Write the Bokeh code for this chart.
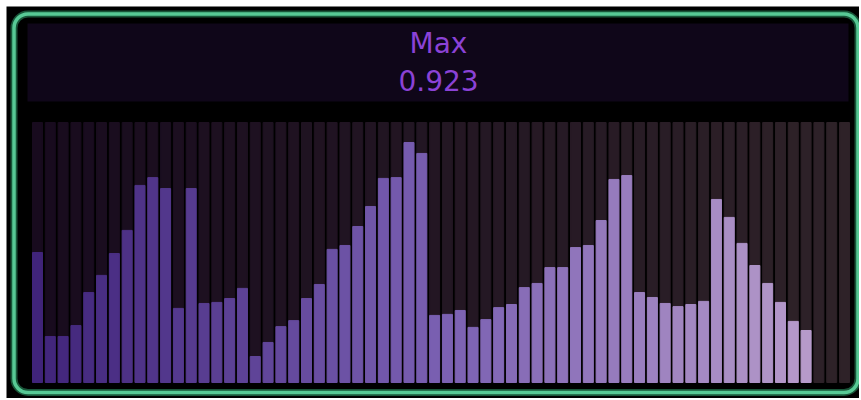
from bokeh.plotting import figure
from bokeh.models import BoxAnnotation, Label, Range1d, ColumnDataSource
from bokeh.embed import file_html
from bokeh.resources import INLINE

# ---- data ----
values = [0.500, 0.177, 0.177, 0.219, 0.346, 0.412, 0.496, 0.585, 0.758, 0.788,
          0.746, 0.285, 0.746, 0.304, 0.308, 0.323, 0.362, 0.100, 0.154, 0.215,
          0.238, 0.323, 0.377, 0.512, 0.527, 0.600, 0.677, 0.785, 0.788, 0.923,
          0.881, 0.258, 0.262, 0.277, 0.212, 0.242, 0.288, 0.300, 0.365, 0.381,
          0.442, 0.442, 0.519, 0.527, 0.623, 0.781, 0.796, 0.346, 0.327, 0.304,
          0.292, 0.300, 0.312, 0.704, 0.635, 0.535, 0.450, 0.381, 0.308, 0.235,
          0.200]
n_slots = 64
title_text = "Max"

# ---- layout (pixels, figure coordinates; y measured from top) ----
W, H = 853, 392
X0_PX, PITCH_PX = 31.0, 12.81      # centre of first slot, slot pitch
BASE_PX, SPAN_PX = 376.0, 260.0    # bar baseline (from top), px per unit value


def px_x(fx):
    return (fx - X0_PX) / PITCH_PX


def px_y(fy_top):
    return (BASE_PX - fy_top) / SPAN_PX


def lerp_hex(c1, c2, t):
    a = [int(c1[i:i + 2], 16) for i in (1, 3, 5)]
    b = [int(c2[i:i + 2], 16) for i in (1, 3, 5)]
    return "#%02x%02x%02x" % tuple(round(a[k] + (b[k] - a[k]) * t) for k in range(3))


p = figure(width=W, height=H, output_backend="svg", toolbar_location=None,
           x_range=Range1d(px_x(0), px_x(W)), y_range=Range1d(px_y(H), px_y(0)),
           min_border=0, background_fill_color="#000000",
           border_fill_color="#000000", outline_line_color=None,
           margin=(6, 0, 0, 6))
p.xaxis.visible = False
p.yaxis.visible = False
p.grid.visible = False

# background slots
slots = list(range(n_slots))
bg_colors = [lerp_hex("#180b1e", "#2e2228", i / (n_slots - 1)) for i in slots]
p.vbar(x=slots, top=[1.0] * n_slots, bottom=0, width=0.78, color=bg_colors)

# value bars
idx = list(range(len(values)))
bar_colors = []
for i in idx:
    t = i / (n_slots - 1)
    if t < 0.5:
        bar_colors.append(lerp_hex("#40247a", "#7a60b2", t / 0.5))
    else:
        bar_colors.append(lerp_hex("#7a60b2", "#bca0cc", (t - 0.5) / 0.5))
src = ColumnDataSource(dict(x=idx, top=values, color=bar_colors))
p.vbar(x="x", top="top", bottom=0, width=0.78, color="color", source=src)

# header panel
p.add_layout(BoxAnnotation(left=px_x(21), right=px_x(842), top=px_y(17), bottom=px_y(95),
                           fill_color="#0f0619", fill_alpha=1, line_color=None))

font = "DejaVu Sans"
p.add_layout(Label(x=px_x(432), y=px_y(37), text=title_text, text_align="center",
                   text_baseline="alphabetic", text_font=font, text_font_size="28px",
                   text_color="#8b42d6"))
p.add_layout(Label(x=px_x(432), y=px_y(74), text="%.3f" % max(values), text_align="center",
                   text_baseline="alphabetic", text_font=font, text_font_size="28px",
                   text_color="#8b42d6"))

# rounded green border with glow
bl, br, bt, bb = px_x(7.5), px_x(851.5), px_y(7.5), px_y(386)
p.add_layout(BoxAnnotation(left=bl, right=br, top=bt, bottom=bb,
                           fill_alpha=0, line_color="#1f6a47", line_alpha=0.8,
                           line_width=7, border_radius=14))
p.add_layout(BoxAnnotation(left=bl, right=br, top=bt, bottom=bb,
                           fill_alpha=0, line_color="#57c995", line_alpha=1.0,
                           line_width=3.5, border_radius=14))

open("out.html", "w").write(file_html(p, INLINE))
